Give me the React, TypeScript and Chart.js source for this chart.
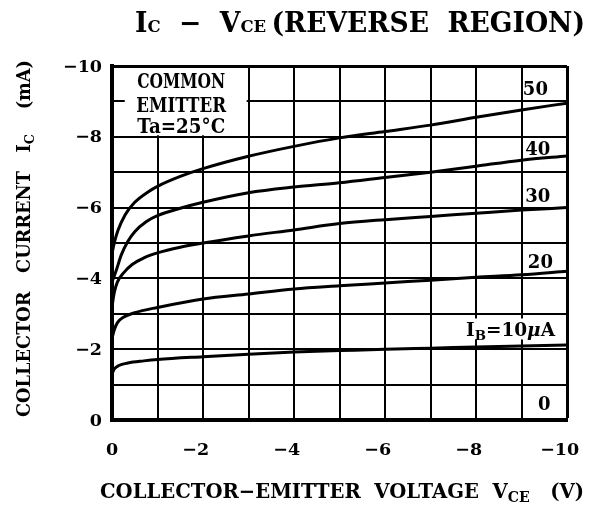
import React, { useEffect, useRef } from "react";
import { Chart, registerables } from "chart.js";

Chart.register(...registerables);

// ---- Data (V_CE in volts, I_C in mA) ----
const ib50Vce = [0, -0.05, -0.13, -0.29, -0.5, -0.8, -1, -1.5, -2, -3, -4, -5, -6, -7, -8, -9, -10];
const ib50Ic = [-4.7, -5.0, -5.35, -5.8, -6.15, -6.45, -6.6, -6.88, -7.1, -7.45, -7.73, -7.97, -8.15, -8.33, -8.55, -8.76, -8.95];
const ib40Vce = [0, -0.1, -0.2, -0.35, -0.5, -0.75, -1, -1.5, -2, -3, -4, -5, -6, -7, -8, -9, -10];
const ib40Ic = [-3.9, -4.25, -4.65, -5.05, -5.32, -5.6, -5.77, -5.98, -6.15, -6.42, -6.58, -6.7, -6.85, -7.0, -7.17, -7.34, -7.46];
const ib30Vce = [0, -0.05, -0.12, -0.25, -0.45, -0.7, -1, -1.5, -2, -3, -4, -5, -6, -7, -8, -9, -10];
const ib30Ic = [-3.2, -3.6, -3.9, -4.15, -4.4, -4.58, -4.72, -4.88, -5.0, -5.2, -5.37, -5.55, -5.66, -5.75, -5.84, -5.93, -6.0];
const ib20Vce = [0, -0.05, -0.12, -0.25, -0.5, -1, -2, -3, -4, -5, -6, -7, -8, -9, -10];
const ib20Ic = [-2.3, -2.55, -2.75, -2.9, -3.03, -3.18, -3.42, -3.56, -3.7, -3.79, -3.87, -3.95, -4.03, -4.1, -4.2];
const ib10Vce = [0, -0.05, -0.15, -0.35, -0.7, -1, -2, -3, -4, -5, -6, -7, -8, -9, -10];
const ib10Ic = [-1.3, -1.44, -1.54, -1.61, -1.67, -1.71, -1.79, -1.86, -1.92, -1.96, -2.0, -2.03, -2.06, -2.09, -2.12];
const ib0Vce = [0, -10];
const ib0Ic = [0, 0];

const xTickValues = [0, -2, -4, -6, -8, -10];
const yTickValues = [0, -2, -4, -6, -8, -10];

const curveLabels = ["50", "40", "30", "20", "10", "0"];
// label anchor (data coords): left x, baseline y
const labelAnchorsV = [-9.03, -9.08, -9.08, -9.14, -7.78, -9.36];
const labelAnchorsI = [-9.18, -7.49, -6.16, -4.29, -2.36, -0.28];

const FONT = "'DejaVu Serif', 'Liberation Serif', serif";

type Seg = { t: string; k?: number; dy?: number; it?: boolean };

function setFont(ctx: CanvasRenderingContext2D, size: number, italic?: boolean) {
  ctx.font = `${italic ? "italic " : ""}bold ${size}px ${FONT}`;
}

function richWidth(ctx: CanvasRenderingContext2D, segs: Seg[], size: number) {
  let w = 0;
  for (const s of segs) {
    setFont(ctx, size * (s.k ?? 1), s.it);
    w += ctx.measureText(s.t).width;
  }
  return w;
}

function drawRich(
  ctx: CanvasRenderingContext2D,
  segs: Seg[],
  x: number,
  y: number,
  size: number,
  targetW: number | null,
  align: "left" | "center" | "right"
) {
  const nat = richWidth(ctx, segs, size);
  const sx = targetW ? targetW / nat : 1;
  const w = nat * sx;
  const x0 = align === "left" ? x : align === "center" ? x - w / 2 : x - w;
  ctx.save();
  ctx.translate(x0, y);
  ctx.scale(sx, 1);
  ctx.textAlign = "left";
  ctx.textBaseline = "alphabetic";
  ctx.fillStyle = "#000";
  let cx = 0;
  for (const s of segs) {
    setFont(ctx, size * (s.k ?? 1), s.it);
    ctx.fillText(s.t, cx, (s.dy ?? 0) * size);
    cx += ctx.measureText(s.t).width;
  }
  ctx.restore();
}

const fmt = (v: number) => (v === 0 ? "0" : "\u2212" + Math.abs(v));

const textPlugin = {
  id: "textPlugin",
  afterDraw(chart: any) {
    const ctx: CanvasRenderingContext2D = chart.ctx;
    const xs = chart.scales.x;
    const ys = chart.scales.y;
    const area = chart.chartArea;

    // Title
    drawRich(
      ctx,
      [
        { t: "I" },
        { t: "C", k: 0.62 },
        { t: "  \u2212  " },
        { t: "V" },
        { t: "CE", k: 0.62 },
        { t: "\u2009(REVERSE  REGION)" },
      ],
      135,
      32,
      27,
      450,
      "left"
    );

    // X tick labels: digits centred on the grid line, minus hanging left
    for (const v of xTickValues) {
      const px = xs.getPixelForValue(v);
      const digits = String(Math.abs(v));
      setFont(ctx, 17.5);
      const dw = ctx.measureText(digits).width;
      ctx.fillStyle = "#000";
      ctx.textBaseline = "alphabetic";
      ctx.textAlign = "left";
      ctx.fillText(digits, px - dw / 2, 455);
      if (v !== 0) {
        ctx.textAlign = "right";
        ctx.fillText("\u2212", px - dw / 2, 455);
      }
    }

    // Y tick labels
    for (const v of yTickValues) {
      const py = ys.getPixelForValue(v);
      setFont(ctx, 17.5);
      ctx.fillStyle = "#000";
      ctx.textAlign = "right";
      ctx.textBaseline = "middle";
      ctx.fillText(fmt(v), 102, py + 1);
    }

    // X axis title
    drawRich(
      ctx,
      [
        { t: "COLLECTOR\u2212EMITTER  VOLTAGE  V" },
        { t: "CE", k: 0.72, dy: 0.22 },
        { t: "   (V)" },
      ],
      100,
      498,
      20,
      484,
      "left"
    );

    // Y axis title (rotated)
    ctx.save();
    ctx.translate(30, 417);
    ctx.rotate(-Math.PI / 2);
    drawRich(
      ctx,
      [
        { t: "COLLECTOR   CURRENT   I" },
        { t: "C", k: 0.72, dy: 0.22 },
        { t: "    (mA)" },
      ],
      0,
      0,
      19,
      357,
      "left"
    );
    ctx.restore();

    // COMMON EMITTER box
    const bx0 = xs.getPixelForValue(-0.28);
    const bx1 = xs.getPixelForValue(-2.96);
    const by0 = area.top + 2;
    const by1 = ys.getPixelForValue(-8) - 1.5;
    ctx.fillStyle = "#fff";
    ctx.fillRect(bx0, by0, bx1 - bx0, by1 - by0);
    const cxm = xs.getPixelForValue(-1.52);
    drawRich(ctx, [{ t: "COMMON" }], cxm, 88, 20, 88, "center");
    drawRich(ctx, [{ t: "EMITTER" }], cxm, 112, 20, 90, "center");
    drawRich(ctx, [{ t: "Ta=25\u00b0C" }], cxm, 133, 20, 88, "center");

    // Curve labels
    for (let i = 0; i < curveLabels.length; i++) {
      const lx = xs.getPixelForValue(labelAnchorsV[i]);
      const ly = ys.getPixelForValue(labelAnchorsI[i]);
      if (curveLabels[i] === "10") {
        ctx.fillStyle = "#fff";
        ctx.fillRect(lx - 3, ly - 18, 95, 21);
        drawRich(
          ctx,
          [{ t: "I" }, { t: "B", k: 0.72, dy: 0.2 }, { t: "=10" }, { t: "\u03bc", it: true }, { t: "A" }],
          lx,
          ly,
          18,
          89,
          "left"
        );
      } else {
        setFont(ctx, 18);
        ctx.fillStyle = "#000";
        ctx.textAlign = "left";
        ctx.textBaseline = "alphabetic";
        ctx.fillText(curveLabels[i], lx, ly);
      }
    }
  },
};

function mk(xv: number[], yv: number[]) {
  return xv.map((x, i) => ({ x, y: yv[i] }));
}

export default function App() {
  const ref = useRef<HTMLCanvasElement | null>(null);

  useEffect(() => {
    if (!ref.current) return;
    const series = [
      mk(ib50Vce, ib50Ic),
      mk(ib40Vce, ib40Ic),
      mk(ib30Vce, ib30Ic),
      mk(ib20Vce, ib20Ic),
      mk(ib10Vce, ib10Ic),
      mk(ib0Vce, ib0Ic),
    ];
    const edgeWidth = (c: any) => (c.tick && c.tick.value === -10 ? 3 : 2);
    const chart = new Chart(ref.current, {
      type: "line",
      data: {
        datasets: series.map((d, i) => ({
          label: curveLabels[i],
          data: d,
          borderColor: "#000",
          borderWidth: 3,
          pointRadius: 0,
          fill: false,
          cubicInterpolationMode: "monotone" as const,
        })),
      },
      options: {
        responsive: false,
        animation: false,
        devicePixelRatio: 1,
        layout: { padding: { left: 0, right: 39, top: 66, bottom: 0 } },
        plugins: {
          legend: { display: false },
          title: { display: false },
          tooltip: { enabled: false },
        },
        scales: {
          x: {
            type: "linear",
            min: -10,
            max: 0,
            reverse: true,
            ticks: { stepSize: 1, display: false },
            grid: { color: "#000", lineWidth: edgeWidth, drawTicks: false },
            border: { display: true, color: "#000", width: 4 },
            afterFit: (s: any) => {
              s.height = 92;
            },
          },
          y: {
            type: "linear",
            min: -10,
            max: 0,
            reverse: true,
            ticks: { stepSize: 1, display: false },
            grid: { color: "#000", lineWidth: edgeWidth, drawTicks: false },
            border: { display: true, color: "#000", width: 4 },
            afterFit: (s: any) => {
              s.width = 112;
            },
          },
        },
      },
      plugins: [textPlugin],
    });
    return () => chart.destroy();
  }, []);

  return (
    <div style={{ position: "absolute", left: 0, top: 0, width: 606, height: 512, background: "#fff" }}>
      <canvas ref={ref} width={606} height={512} style={{ width: 606, height: 512, display: "block" }} />
    </div>
  );
}
